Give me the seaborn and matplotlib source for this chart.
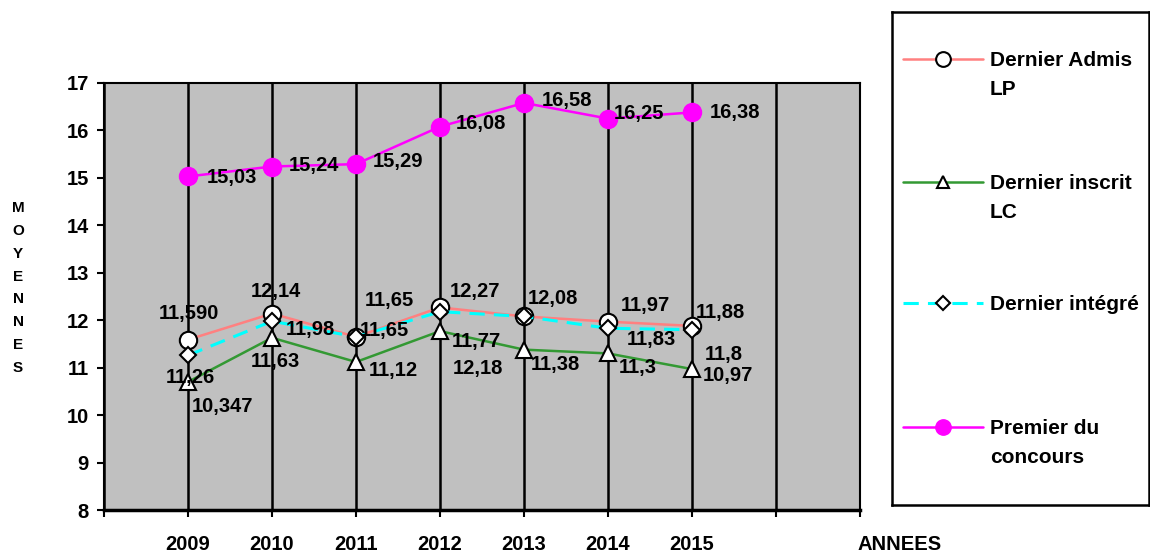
import matplotlib
matplotlib.use("Agg")
import matplotlib.pyplot as plt
import seaborn as sns
from matplotlib.lines import Line2D

# valeurs
years = [2009, 2010, 2011, 2012, 2013, 2014, 2015]
admis_lp = [11.59, 12.14, 11.65, 12.27, 12.08, 11.97, 11.88]
inscrit_lc = [10.70, 11.63, 11.12, 11.77, 11.38, 11.30, 10.97]
integre = [11.26, 11.98, 11.65, 12.18, 12.08, 11.83, 11.80]
premier = [15.03, 15.24, 15.29, 16.08, 16.58, 16.25, 16.38]

admis_labels = ["11,590", "12,14", "11,65", "12,27", "12,08", "11,97", "11,88"]
inscrit_labels = ["10,347", "11,63", "11,12", "11,77", "11,38", "11,3", "10,97"]
integre_labels = ["11,26", "11,98", "11,65", "12,18", "", "11,83", "11,8"]
premier_labels = ["15,03", "15,24", "15,29", "16,08", "16,58", "16,25", "16,38"]

# label placement (pixels from the point)
admis_off = [(1, 26), (4, 22), (33, 36), (35, 16), (29, 18), (37, 16), (28, 13)]
integre_off = [(2, -22), (38, -8), (28, 6), (38, -57), (0, 0), (43, -11), (32, -25)]
inscrit_off = [(34, -25), (3, -24), (37, -9), (36, -10), (31, -15), (30, -14), (36, -6)]
premier_off = [(44, -1), (42, 1), (42, 3), (41, 3), (43, 2), (31, 5), (43, 0)]

sns.set_style("white")
plt.rcParams['font.family'] = ['Liberation Sans', 'DejaVu Sans']
plt.rcParams['font.weight'] = 'bold'
plt.rcParams['text.color'] = 'black'
plt.rcParams['xtick.color'] = 'black'
plt.rcParams['ytick.color'] = 'black'

W, H = 1150, 554
fig = plt.figure(figsize=(W / 100, H / 100), dpi=100)
ax = fig.add_axes([104 / W, 1 - 510 / H, (860 - 104) / W, (510 - 83) / H])
ax.set_facecolor('#C0C0C0')

st_admis = dict(color='#FF8080', marker='o', markersize=12.5, markerfacecolor='white',
                markeredgecolor='black', markeredgewidth=1.5, linewidth=1.8, linestyle='-')
st_integre = dict(color='#00FFFF', marker='D', markersize=8.5, markerfacecolor='white',
                  markeredgecolor='black', markeredgewidth=1.5, linewidth=2.2,
                  linestyle=(0, (5, 3)))
st_inscrit = dict(color='#339933', marker='^', markersize=11, markerfacecolor='white',
                  markeredgecolor='black', markeredgewidth=1.5, linewidth=1.8, linestyle='-')
st_premier = dict(color='#FF00FF', marker='o', markersize=13, markerfacecolor='#FF00FF',
                  markeredgecolor='#FF00FF', markeredgewidth=1, linewidth=1.8, linestyle='-')

series = [(admis_lp, admis_labels, admis_off, st_admis),
          (integre, integre_labels, integre_off, st_integre),
          (inscrit_lc, inscrit_labels, inscrit_off, st_inscrit),
          (premier, premier_labels, premier_off, st_premier)]

for vals, labs, offs, st in series:
    sns.lineplot(x=years, y=vals, ax=ax, zorder=3, **st)
    for x, y, lab, off in zip(years, vals, labs, offs):
        if lab:
            ax.annotate(lab, (x, y), xytext=off, textcoords='offset pixels',
                        ha='center', va='center', fontsize=14.5, fontweight='bold',
                        zorder=5)

ax.set_xlim(2008, 2017)
ax.set_ylim(8, 17)
ax.set_xticks(range(2008, 2018))
ax.set_xticklabels([str(t) if t in years else "" for t in range(2008, 2018)])
ax.set_yticks(range(8, 18))
ax.tick_params(axis='x', length=5, width=1.5, pad=13, labelsize=14.5, direction='out', bottom=True)
ax.tick_params(axis='y', length=5, width=1.5, pad=6, labelsize=14.5, direction='out', left=True)
ax.grid(axis='x', color='black', linewidth=1.8, zorder=1)
ax.grid(axis='y', visible=False)
ax.set_axisbelow(True)
for name, sp in ax.spines.items():
    sp.set_visible(True)
    sp.set_color('black')
    sp.set_linewidth(1.5)
ax.spines['bottom'].set_linewidth(2.5)
ax.set_xlabel("")
ax.set_ylabel("")

fig.text(18 / W, 1 - 288 / H, "\n".join("MOYENNES"), ha='center', va='center',
         fontsize=11, fontweight='bold', linespacing=1.8)
fig.text(900 / W, 1 - 545 / H, "ANNEES", ha='center', va='center',
         fontsize=14.5, fontweight='bold')

# legend box drawn by hand
legend_names = ["Dernier Admis\nLP", "Dernier inscrit\nLC", "Dernier intégré",
                "Premier du\nconcours"]
legend_styles = [st_admis, st_inscrit, st_integre, st_premier]

lax = fig.add_axes([892 / W, 1 - 505 / H, (1149 - 892) / W, (505 - 12) / H])
lax.set_xlim(892, 1149)
lax.set_ylim(505, 12)
lax.set_xticks([])
lax.set_yticks([])
for sp in lax.spines.values():
    sp.set_visible(True)
    sp.set_color('black')
    sp.set_linewidth(1.8)
entry_y = [59, 182, 303, 427]
for name, st, yy in zip(legend_names, legend_styles, entry_y):
    lax.add_line(Line2D([903, 983], [yy, yy], color=st['color'], linewidth=st['linewidth'],
                        linestyle=st['linestyle']))
    lax.add_line(Line2D([943], [yy], marker=st['marker'],
                        markersize=st['markersize'] * 0.85,
                        markerfacecolor=st['markerfacecolor'],
                        markeredgecolor=st['markeredgecolor'],
                        markeredgewidth=st['markeredgewidth'], linestyle='none'))
    lax.text(990, yy - 8, name, ha='left', va='top', fontsize=15,
             fontweight='bold', linespacing=1.65)

fig.savefig("out.png", dpi=100)
